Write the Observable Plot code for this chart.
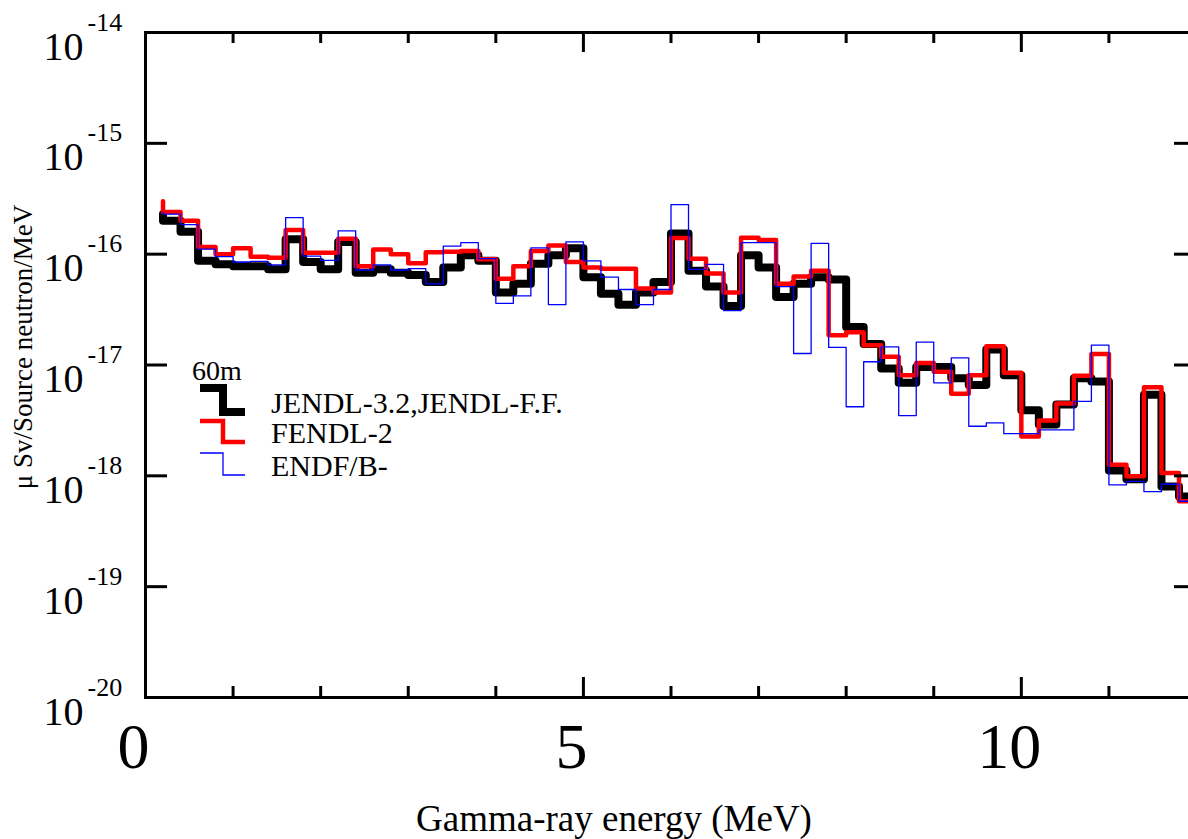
<!DOCTYPE html>
<html>
<head>
<meta charset="utf-8">
<script src="https://cdn.jsdelivr.net/npm/d3@7"></script>
<script src="https://cdn.jsdelivr.net/npm/@observablehq/plot@0.6"></script>
<style>
  html, body { margin: 0; padding: 0; background: #fff; overflow: hidden; width: 1188px; height: 839px; }
  #chart svg { max-width: none !important; display: block; }
</style>
</head>
<body>
<div id="chart"></div>
<script>
// ---------- data ----------
// lower edges of the 0.2 MeV energy bins (MeV)
const binStarts = [0.2,0.4,0.6,0.8,1.0,1.2,1.4,1.6,1.8,2.0,2.2,2.4,2.6,2.8,3.0,3.2,3.4,3.6,3.8,4.0,
  4.2,4.4,4.6,4.8,5.0,5.2,5.4,5.6,5.8,6.0,6.2,6.4,6.6,6.8,7.0,7.2,7.4,7.6,7.8,8.0,
  8.2,8.4,8.6,8.8,9.0,9.2,9.4,9.6,9.8,10.0,10.2,10.4,10.6,10.8,11.0,11.2,11.4,11.6,11.8];
const binEnd = 12.0;

// µSv / source neutron / MeV
const jendl = [2.0e-16,1.59e-16,8.7e-17,8.1e-17,7.8e-17,7.8e-17,7.3e-17,1.36e-16,8.5e-17,7.3e-17,
  1.29e-16,6.8e-17,7.3e-17,6.8e-17,6.5e-17,5.6e-17,7.6e-17,9.8e-17,8.7e-17,4.5e-17,
  5.4e-17,8.2e-17,9.8e-17,1.13e-16,6.2e-17,4.4e-17,3.5e-17,4.5e-17,5.6e-17,1.54e-16,
  7.1e-17,5.1e-17,3.4e-17,9.8e-17,7.6e-17,4.1e-17,5.4e-17,6.2e-17,5.9e-17,2.2e-17,
  1.55e-17,9.3e-18,6.9e-18,9.6e-18,9.6e-18,7.6e-18,6.6e-18,1.38e-17,8.1e-18,3.9e-18,
  2.9e-18,4.4e-18,7.6e-18,7.1e-18,1.12e-18,9.3e-19,5.4e-18,8.0e-19,6.5e-19];
const fendl = [2.4e-16,2.0e-16,1.16e-16,1.0e-16,1.13e-16,9.5e-17,9.3e-17,1.65e-16,1.03e-16,1.03e-16,
  1.38e-16,7.8e-17,1.10e-16,1.0e-16,8.3e-17,1.04e-16,1.05e-16,1.07e-16,9.0e-17,6.0e-17,
  7.8e-17,1.07e-16,1.2e-16,8.5e-17,7.6e-17,7.4e-17,7.4e-17,4.9e-17,4.5e-17,1.4e-16,
  9.1e-17,6.7e-17,4.5e-17,1.41e-16,1.34e-16,5.4e-17,6.3e-17,7.1e-17,1.86e-17,1.97e-17,
  1.51e-17,1.19e-17,8.1e-18,1.04e-17,8.7e-18,5.5e-18,8.1e-18,1.48e-17,8.5e-18,2.26e-18,
  3.15e-18,4.5e-18,8.0e-18,1.26e-17,1.26e-18,9.9e-19,6.3e-18,1.06e-18,5.9e-19];
const endf = [2.3e-16,1.85e-16,1.11e-16,9.5e-17,8.5e-17,8.6e-17,8.0e-17,2.14e-16,9.6e-17,8.8e-17,
  1.62e-16,7.2e-17,8.0e-17,7.2e-17,7.4e-17,5.4e-17,1.18e-16,1.27e-16,9.1e-17,3.6e-17,
  4.2e-17,1.14e-16,3.5e-17,1.29e-16,8.7e-17,6.2e-17,4.8e-17,3.5e-17,4.8e-17,2.8e-16,
  7.3e-17,8.1e-17,3.1e-17,1.27e-16,1.27e-16,5.1e-17,1.27e-17,1.25e-16,1.44e-17,4.2e-18,
  1.07e-17,1.46e-17,3.5e-18,1.61e-17,6.9e-18,1.16e-17,2.8e-18,3.0e-18,2.4e-18,2.4e-18,
  2.6e-18,2.6e-18,4.7e-18,1.51e-17,8.3e-19,8.9e-19,7.2e-19,8.4e-19,5.9e-19];
// value at the very start of each histogram (short vertical at 0.2 MeV)
const jendlLead = 2.3e-16, fendlLead = 3.0e-16, endfLead = 2.4e-16;

const xMajor = [0, 5, 10];
const xMajorLabels = ["0", "5", "10"];
const xMinor = [1, 2, 3, 4, 6, 7, 8, 9, 11];
const yDecades = [1e-20, 1e-19, 1e-18, 1e-17, 1e-16, 1e-15, 1e-14];
const yExponents = ["-20", "-19", "-18", "-17", "-16", "-15", "-14"];

const xTitle = "Gamma-ray energy (MeV)";
const yTitle = "μ Sv/Source neutron/MeV";
const legendTitle = "60m";
const legendLabels = ["JENDL-3.2,JENDL-F.F.", "FENDL-2", "ENDF/B-"];
const legendColors = ["#000000", "#ff0000", "#0000ff"];
const legendWidths = [8, 4.5, 1.3];

// ---------- build ----------
const serif = "'Liberation Serif','Times New Roman',Times,serif";
function steps(vals, lead) {
  const pts = [{x: binStarts[0], y: lead}];
  vals.forEach((v, i) => pts.push({x: binStarts[i], y: v}));
  pts.push({x: binEnd, y: vals[vals.length - 1]});
  return pts;
}

const W = 1200, H = 839, mL = 145, mR = 4, mT = 32, mB = 142;
const plotW = W - mL - mR, plotH = H - mT - mB;

const chart = Plot.plot({
  width: W, height: H,
  marginLeft: mL, marginRight: mR, marginTop: mT, marginBottom: mB,
  style: `font-family:${serif};background:#fff;max-width:none;overflow:visible;color:#000;`,
  x: {domain: [0, 12], axis: null},
  y: {type: "log", domain: [1e-20, 1e-14], axis: null},
  marks: [
    Plot.line(steps(jendl, jendlLead), {x: "x", y: "y", curve: "step-after", stroke: legendColors[0], strokeWidth: legendWidths[0], strokeLinejoin: "round"}),
    Plot.line(steps(fendl, fendlLead), {x: "x", y: "y", curve: "step-after", stroke: legendColors[1], strokeWidth: legendWidths[1], strokeLinejoin: "round"}),
    Plot.line(steps(endf, endfLead), {x: "x", y: "y", curve: "step-after", stroke: legendColors[2], strokeWidth: legendWidths[2]}),
    Plot.frame({stroke: "#000", strokeWidth: 3}),
    // x ticks (inside, bottom and top)
    Plot.tickX(xMinor, {x: d => d, stroke: "#000", strokeWidth: 3, insetTop: plotH - 11}),
    Plot.tickX(xMinor, {x: d => d, stroke: "#000", strokeWidth: 3, insetBottom: plotH - 11}),
    Plot.tickX(xMajor, {x: d => d, stroke: "#000", strokeWidth: 3, insetTop: plotH - 20}),
    Plot.tickX(xMajor, {x: d => d, stroke: "#000", strokeWidth: 3, insetBottom: plotH - 20}),
    // y ticks (inside, left and right)
    Plot.tickY(yDecades, {y: d => d, stroke: "#000", strokeWidth: 3, insetRight: plotW - 22}),
    Plot.tickY(yDecades, {y: d => d, stroke: "#000", strokeWidth: 3, insetLeft: plotW - 22}),
    // y tick labels: 10 with superscript exponent
    Plot.text(yDecades, {y: d => d, frameAnchor: "left", text: () => "10", textAnchor: "end", lineAnchor: "bottom", dx: -62, dy: 27, fontSize: 40, fontFamily: serif, fill: "#000"}),
    Plot.text(yDecades, {y: d => d, frameAnchor: "left", text: (d, i) => yExponents[i], textAnchor: "start", lineAnchor: "bottom", dx: -58, dy: -2, fontSize: 26, fontFamily: serif, fill: "#000"}),
    // x tick labels
    Plot.text(xMajor, {x: d => d, frameAnchor: "bottom", text: (d, i) => xMajorLabels[i], textAnchor: "middle", lineAnchor: "bottom", dx: -12, dy: 70, fontSize: 64, fontFamily: serif, fill: "#000"}),
    // axis titles
    Plot.text([xTitle], {frameAnchor: "bottom", text: d => d, textAnchor: "middle", lineAnchor: "bottom", dx: -57, dy: 133, fontSize: 37, fontFamily: serif, fill: "#000"}),
    Plot.text([yTitle], {frameAnchor: "left", text: d => d, rotate: -90, textAnchor: "middle", lineAnchor: "bottom", dx: -114, dy: -18, fontSize: 27, fontFamily: serif, fill: "#000"})
  ]
});

// ---------- legend ----------
const svg = d3.select(chart);
const lg = svg.append("g").attr("font-family", serif).attr("fill", "#000").attr("text-anchor", "start");
lg.append("text").attr("x", 192).attr("y", 380).attr("font-size", 28).attr("text-anchor", "start").text(legendTitle);
const glyphTop = [388, 421, 453], glyphBottom = [412, 442, 475];
legendLabels.forEach((lab, i) => {
  lg.append("path")
    .attr("d", `M200,${glyphTop[i]}H223V${glyphBottom[i]}H245`)
    .attr("fill", "none").attr("stroke", legendColors[i]).attr("stroke-width", legendWidths[i]);
  lg.append("text").attr("x", 271).attr("y", glyphBottom[i] + 1).attr("font-size", 30)
    .attr("text-anchor", "start").text(lab);
});

document.getElementById("chart").appendChild(chart);
</script>
</body>
</html>
